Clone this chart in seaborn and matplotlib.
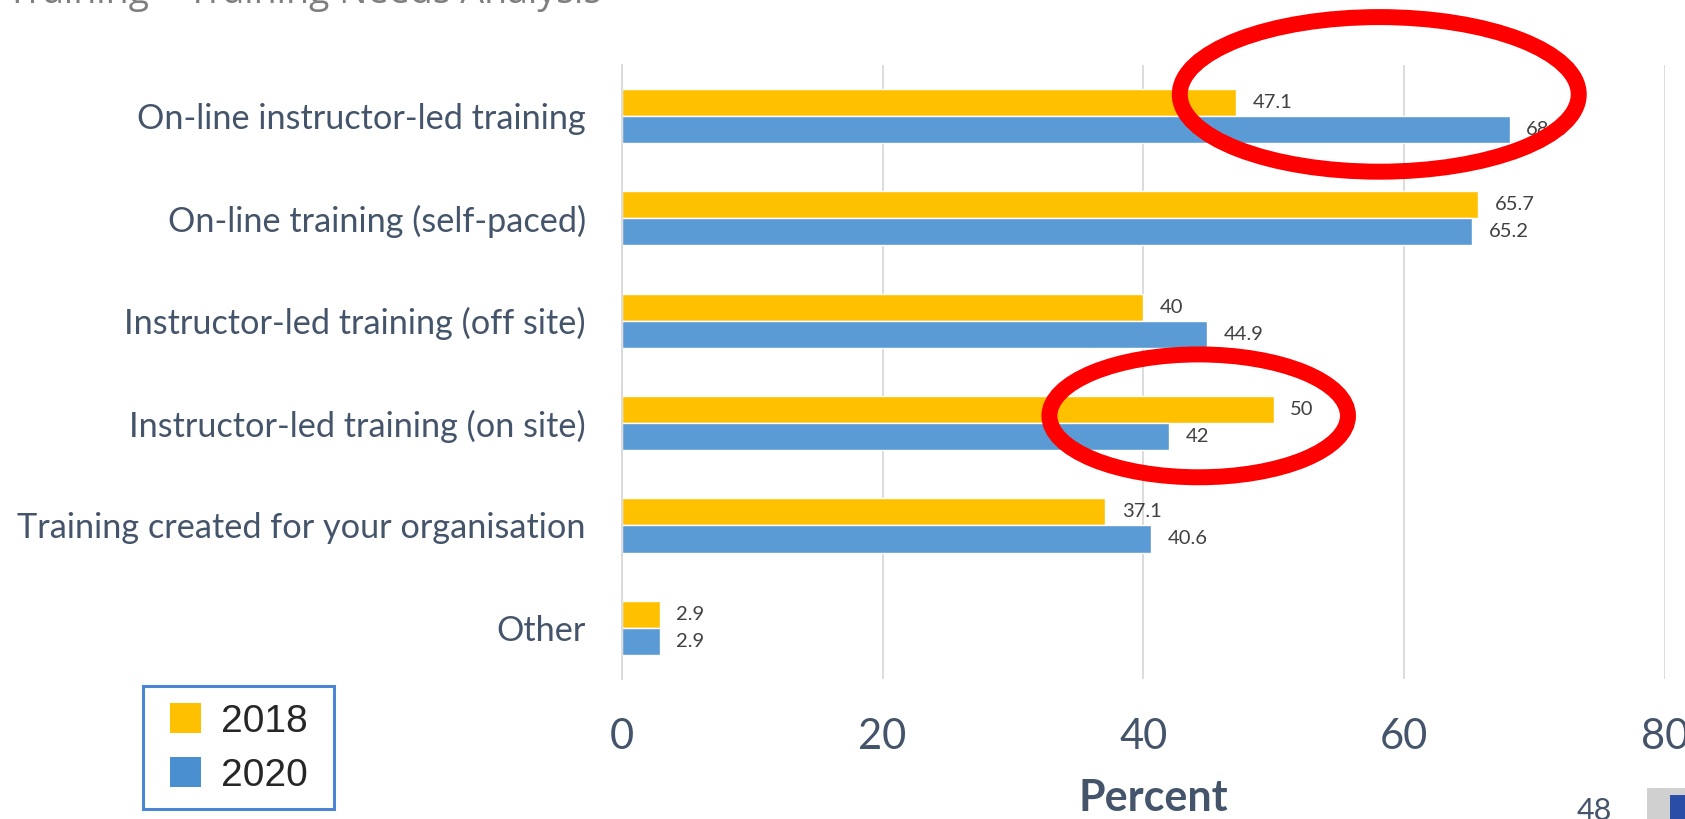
import matplotlib
matplotlib.use("Agg")
import matplotlib.pyplot as plt
from matplotlib.patches import Ellipse, Patch, Rectangle
import seaborn as sns
import pandas as pd

categories = [
    "On-line instructor-led training",
    "On-line training (self-paced)",
    "Instructor-led training (off site)",
    "Instructor-led training (on site)",
    "Training created for your organisation",
    "Other",
]
values_2018 = [47.1, 65.7, 40, 50, 37.1, 2.9]
values_2020 = [68.1, 65.2, 44.9, 42, 40.6, 2.9]
years = ["2018", "2020"]
x_ticks = [0, 20, 40, 60, 80]

df = pd.DataFrame({
    "category": categories * 2,
    "value": values_2018 + values_2020,
    "year": [years[0]] * len(categories) + [years[1]] * len(categories),
})

sns.set_theme(style="white")
plt.rcParams["font.family"] = ["Lato", "DejaVu Sans"]

W, H = 1685, 819
fig = plt.figure(figsize=(W / 100, H / 100), dpi=100)
ax = fig.add_axes([0.369, 0.171, 0.619, 0.75])

palette = {"2018": "#FFC000", "2020": "#5B9BD5"}
sns.barplot(data=df, x="value", y="category", hue="year", order=categories,
            hue_order=years, palette=palette, orient="h", width=0.53,
            saturation=1, legend=False, ax=ax)

for container in ax.containers:
    ax.bar_label(container, labels=[f"{v:g}" for v in container.datavalues],
                 padding=12, fontsize=14.5, color="#404040")

ax.set_xlim(0, 80)
ax.set_ylim(5.5, -0.5)
ax.set_xticks(x_ticks)
ax.xaxis.grid(True, color="#D9D9D9", linewidth=1.3)
ax.set_axisbelow(True)
for side in ["top", "right", "bottom"]:
    ax.spines[side].set_visible(False)
ax.spines["left"].set_color("#D9D9D9")
ax.spines["left"].set_linewidth(1.3)
ax.tick_params(axis="x", labelsize=30, colors="#44546A", length=0, pad=28)
ax.tick_params(axis="y", labelsize=24.7, colors="#44546A", length=0, pad=26)
ax.set_ylabel("")
ax.set_xlabel("Percent", fontsize=31, fontweight="bold", color="#44546A")
ax.xaxis.set_label_coords(0.51, -0.162)

# Highlight rings around the two groups of interest
ring_style = dict(fill=False, edgecolor="#FF0000", linewidth=11.5,
                  clip_on=False, zorder=5)
ax.add_patch(Ellipse((58.1, -0.21), 30.6, 1.51, **ring_style))
ax.add_patch(Ellipse((44.25, 2.93), 22.9, 1.20, **ring_style))

# Legend at the lower left, with its own outlined box
handles = [Patch(facecolor="#FFC000", edgecolor="none"),
           Patch(facecolor="#4A8FD0", edgecolor="none")]
leg = fig.legend(handles, years, loc="center",
                 bbox_to_anchor=(239 / W, 1 - 748.5 / H),
                 frameon=False,
                 prop={"family": "Liberation Sans", "size": 28},
                 handlelength=0.8, handleheight=0.8, handletextpad=0.5,
                 labelspacing=0.45, borderpad=0, borderaxespad=0)
fig.patches.append(Rectangle((143 / W, 1 - 809 / H), 191 / W, 123 / H,
                             transform=fig.transFigure, fill=False,
                             edgecolor="#4A86D4", linewidth=2.2))

# Slide header (running off the top edge) and footer
fig.text(0.004, 1 - 3 / H, "Training – Training Needs Analysis",
         fontsize=27, color="#7F7F7F", va="baseline", ha="left",
         family=["Open Sans", "DejaVu Sans"])
fig.text(1594 / W, -6 / H, "48", fontsize=22, color="#44546A",
         ha="center", va="bottom")
fig.patches.append(Rectangle((1647 / W, 0), 38 / W, 31 / H,
                             transform=fig.transFigure, facecolor="#D0D0D0",
                             edgecolor="none"))
fig.patches.append(Rectangle((1670 / W, 0), 15 / W, 24 / H,
                             transform=fig.transFigure, facecolor="#2A4DA8",
                             edgecolor="none"))

fig.savefig("out.png", dpi=100)
